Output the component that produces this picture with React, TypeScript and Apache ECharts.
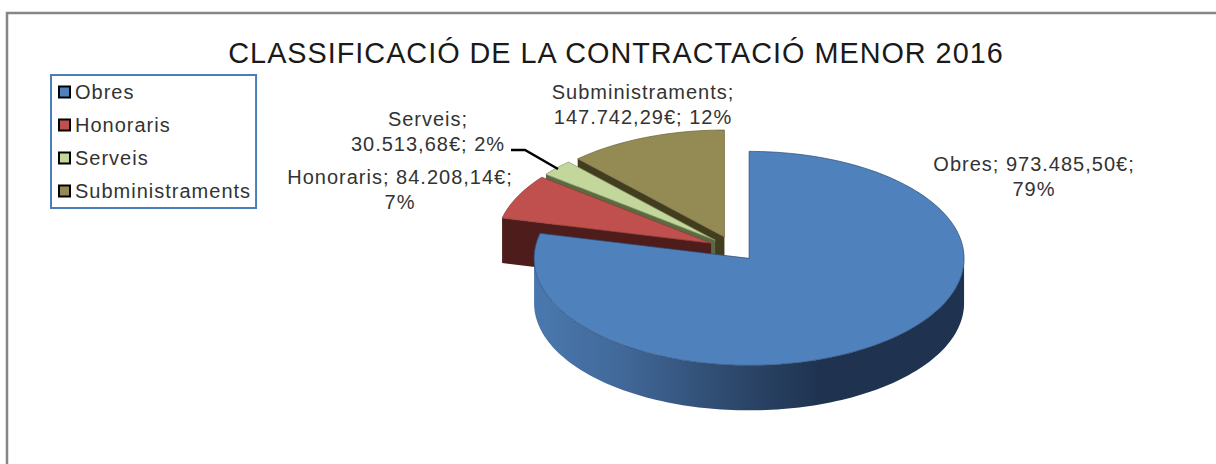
import React, { useEffect, useRef } from "react";
import * as echarts from "echarts";

const titleText = "CLASSIFICACIÓ DE LA CONTRACTACIÓ MENOR 2016";
const categories = ["Obres", "Honoraris", "Serveis", "Subministraments"];
const values = [973485.5, 84208.14, 30513.68, 147742.29];
const labelBreakAfter = [2, 2, 1, 1];

const topColors = ["#4f81bd", "#c0504d", "#c3d69b", "#948a54"];
const wallColors = ["#1f3350", "#4e1c1a", "#5c6a42", "#433d20"];
const edgeColors = ["#2c4a70", "#8a3a38", "#8a9a6c", "#6a6238"];
const labelCentres = [
  [1034, 176],
  [400, 189],
  [428, 131],
  [643, 104],
];

const total = values.reduce((a, b) => a + b, 0);
const CX = 733.6;
const CY = 248.6;
const RX = 215;
const RY = 107;
const DEPTH = 45;
const EXPLODE = 25;

const fmt = (v: number) => {
  const [i, d] = v.toFixed(2).split(".");
  return i.replace(/\B(?=(\d{3})+$)/g, ".") + "," + d;
};

const labelOf = (idx: number) => {
  const parts = [
    categories[idx] + ";",
    fmt(values[idx]) + "€;",
    Math.round((values[idx] / total) * 100) + "%",
  ];
  const n = labelBreakAfter[idx];
  return parts.slice(0, n).join(" ") + "\n" + parts.slice(n).join(" ");
};

const sweep = (idx: number) => {
  const before = values.slice(0, idx).reduce((a, b) => a + b, 0);
  return [(before / total) * 360, ((before + values[idx]) / total) * 360];
};

const rad = (d: number) => (d * Math.PI) / 180;

function renderSlice(idx: number) {
  return () => {
    const [a0, a1] = sweep(idx);
    const mid = rad((a0 + a1) / 2);
    const ax = CX + EXPLODE * Math.sin(mid);
    const ay = CY - (EXPLODE * Math.cos(mid) * RY) / RX;
    const pt = (deg: number, dy = 0): number[] => [
      ax + RX * Math.sin(rad(deg)),
      ay - RY * Math.cos(rad(deg)) + dy,
    ];
    const arc = (from: number, to: number, dy = 0) => {
      const out: number[][] = [];
      const steps = Math.max(2, Math.ceil(Math.abs(to - from) / 1.5));
      for (let i = 0; i <= steps; i++) out.push(pt(from + ((to - from) * i) / steps, dy));
      return out;
    };
    const children: any[] = [];
    if (idx !== 0) {
      const e = pt(a0);
      children.push({
        type: "polygon",
        shape: { points: [[ax, ay], e, [e[0], e[1] + DEPTH], [ax, ay + DEPTH]] },
        style: { fill: wallColors[idx], stroke: null },
      });
    } else {
      const from = Math.max(a0, 90);
      const to = Math.min(a1, 270);
      children.push({
        type: "polygon",
        shape: { points: [...arc(from, to), ...arc(to, from, DEPTH)] },
        style: {
          stroke: null,
          fill: {
            type: "linear",
            global: true,
            x: ax - RX,
            y: 0,
            x2: ax + 70,
            y2: 0,
            colorStops: [
              { offset: 0, color: "#4a78ae" },
              { offset: 0.3, color: "#42699a" },
              { offset: 0.68, color: "#2e4a6e" },
              { offset: 1, color: wallColors[0] },
            ],
          },
        },
      });
    }
    children.push({
      type: "polygon",
      shape: { points: [[ax, ay], ...arc(a0, a1)] },
      style: { fill: topColors[idx], stroke: edgeColors[idx], lineWidth: 0.7 },
    });
    return { type: "group", children };
  };
}

export default function App() {
  const ref = useRef<HTMLDivElement>(null);
  useEffect(() => {
    const chart = echarts.init(ref.current!, null, { renderer: "svg" });
    const font = "Liberation Sans, Arial, sans-serif";
    const drawOrder = categories.map((_, i) => categories.length - 1 - i);
    chart.setOption({
      animation: false,
      backgroundColor: "#ffffff",
      title: {
        text: titleText,
        left: 616,
        top: 38,
        textAlign: "center",
        padding: 0,
        textStyle: { fontFamily: font, fontSize: 28.8, fontWeight: "normal", color: "#1a1a1a" },
      },
      legend: {
        data: categories,
        orient: "vertical",
        icon: "rect",
        left: 51,
        top: 75,
        padding: [7, 21, 7, 7],
        itemWidth: 11,
        itemHeight: 11,
        itemGap: 13,
        borderColor: "#4a7ebb",
        borderWidth: 2,
        selectedMode: false,
        itemStyle: { borderColor: "#000000", borderWidth: 2 },
        textStyle: { fontFamily: font, fontSize: 20, color: "#333333", padding: 0 },
      },
      series: drawOrder.map((i) => ({
        type: "custom",
        name: categories[i],
        coordinateSystem: "none",
        silent: true,
        itemStyle: { color: topColors[i] },
        data: [values[i]],
        renderItem: renderSlice(i),
      })),
      graphic: [
        {
          type: "polyline",
          shape: { points: [[7, 464], [7, 13], [1216, 13]] },
          style: { stroke: "#868686", lineWidth: 2.5, fill: null },
        },
        {
          type: "polyline",
          z: 10,
          shape: { points: [[511, 150], [525, 150], [558, 169]] },
          style: { stroke: "#000000", lineWidth: 2.5, fill: null },
        },
        ...categories.map((_, i) => ({
          type: "text",
          z: 10,
          x: labelCentres[i][0],
          y: labelCentres[i][1],
          style: {
            text: labelOf(i),
            fontFamily: font,
            fontSize: 20,
            lineHeight: 25,
            fill: "#333333",
            align: "center",
            verticalAlign: "middle",
          },
        })),
      ],
    });
    return () => chart.dispose();
  }, []);
  return (
    <div
      ref={ref}
      style={{ position: "absolute", left: 0, top: 0, width: 1216, height: 464, letterSpacing: "1px" }}
    />
  );
}
